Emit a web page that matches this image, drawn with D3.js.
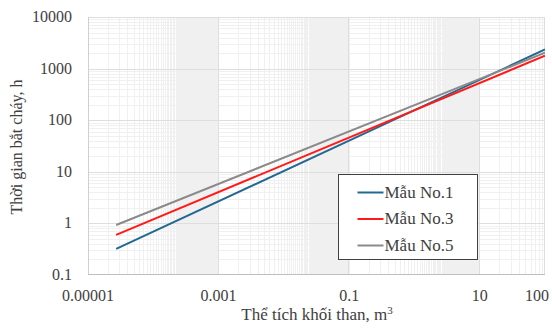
<!doctype html>
<html>
  <head>
    <meta charset="utf-8" />
    <style>
      body { margin: 0; background: #fff; }
      svg text { fill: #404040; }
    </style>
  </head>
  <body>
    <div id="chart"></div>
    <script src="https://cdn.jsdelivr.net/npm/d3@7"></script>
    <script>
      // series (two ends of each straight log-log line)
      var seriesNames = ["Mẫu No.1", "Mẫu No.3", "Mẫu No.5"];
      var seriesColors = ["#236891", "#ff1a1a", "#8a8a8a"];
      var volumeX = [0.000027, 100];
      var sample1 = [0.32, 2350];
      var sample3 = [0.60, 1780];
      var sample5 = [0.93, 2030];
      var xTickLabels = ["0.00001", "0.001", "0.1", "10", "100"];
      var yTickLabels = ["0.1", "1", "10", "100", "1000", "10000"];

      var width = 552, height = 328;
      var margin = {top: 17, right: 7, bottom: 53, left: 88};
      var w = width - margin.left - margin.right,
          h = height - margin.top - margin.bottom;
      var serif = "'Liberation Serif', 'Times New Roman', serif";

      var x = d3.scaleLog().domain([0.00001, 100]).range([0, w]);
      var y = d3.scaleLog().domain([0.1, 10000]).range([h, 0]);

      var svg = d3.select("#chart").append("svg")
                  .attr("width", width)
                  .attr("height", height);
      var g = svg.append("g")
                 .attr("transform", "translate(" + margin.left + "," + margin.top + ")");

      function crisp(v) { return Math.round(v) + 0.5; }

      // minor gridlines: x axis uses base 100 so minors go 2..99 per major step
      var xMinor = [];
      for (var e = -5; e < 2; e += 2) {
        for (var k = 2; k < 100; k++) {
          var v = k * Math.pow(10, e);
          if (v < 100) xMinor.push(v);
        }
      }
      var yMinor = [];
      for (var p = -1; p < 4; p++) {
        for (var j = 2; j < 10; j++) yMinor.push(j * Math.pow(10, p));
      }

      g.selectAll(".ygrid-minor")
       .data(yMinor)
       .enter().append("line")
       .attr("x1", 0).attr("x2", w)
       .attr("y1", function(d) { return crisp(y(d)); })
       .attr("y2", function(d) { return crisp(y(d)); })
       .style("stroke", "#f0f0f0");

      g.selectAll(".xgrid-minor")
       .data(xMinor)
       .enter().append("line")
       .attr("y1", 0).attr("y2", h)
       .attr("x1", function(d) { return crisp(x(d)); })
       .attr("x2", function(d) { return crisp(x(d)); })
       .style("stroke", "#f0f0f0");

      g.selectAll(".ygrid")
       .data(yTickLabels.slice(1))
       .enter().append("line")
       .attr("x1", 0).attr("x2", w)
       .attr("y1", function(d) { return crisp(y(+d)); })
       .attr("y2", function(d) { return crisp(y(+d)); })
       .style("stroke", "#dedede");

      g.selectAll(".xgrid")
       .data(xTickLabels.slice(1))
       .enter().append("line")
       .attr("y1", 0).attr("y2", h)
       .attr("x1", function(d) { return crisp(x(+d)) - 1; })
       .attr("x2", function(d) { return crisp(x(+d)) - 1; })
       .style("stroke", "#dedede");

      // axis lines
      g.append("line")
       .attr("x1", 0.5).attr("x2", 0.5).attr("y1", 0).attr("y2", h)
       .style("stroke", "#d0d0d0");
      g.append("line")
       .attr("x1", 0).attr("x2", w).attr("y1", h - 0.5).attr("y2", h - 0.5)
       .style("stroke", "#bfbfbf");

      // tick labels
      g.selectAll(".xlab")
       .data(xTickLabels)
       .enter().append("text")
       .attr("x", function(d, i) { return i === xTickLabels.length - 1 ? x(+d) + 4 : x(+d); })
       .attr("y", h + 26)
       .attr("text-anchor", function(d, i) { return i === xTickLabels.length - 1 ? "end" : "middle"; })
       .attr("font-family", serif)
       .style("font-size", "16px")
       .text(function(d) { return d; });

      g.selectAll(".ylab")
       .data(yTickLabels)
       .enter().append("text")
       .attr("x", -16)
       .attr("y", function(d) { return y(+d) + 5; })
       .attr("text-anchor", "end")
       .attr("font-family", serif)
       .style("font-size", "16px")
       .text(function(d) { return d; });

      // axis titles
      svg.append("text")
         .attr("x", 317).attr("y", 320)
         .attr("text-anchor", "middle")
         .attr("font-family", serif)
         .style("font-size", "17px")
         .html("Thể tích khối than, m<tspan dy='-6' font-size='11px'>3</tspan>");

      svg.append("text")
         .attr("transform", "translate(22,147) rotate(-90)")
         .attr("text-anchor", "middle")
         .attr("font-family", serif)
         .style("font-size", "16px")
         .text("Thời gian bắt cháy, h");

      // series
      var seriesValues = [sample1, sample3, sample5];
      var line = d3.line()
                   .x(function(d) { return x(d[0]); })
                   .y(function(d) { return y(d[1]); });

      svg.append("clipPath").attr("id", "plot-clip")
         .append("rect").attr("width", w).attr("height", h);

      g.selectAll(".series")
       .data(seriesValues)
       .enter().append("path")
       .attr("clip-path", "url(#plot-clip)")
       .attr("d", function(vals) {
         return line(volumeX.map(function(xv, i) { return [xv, vals[i]]; }));
       })
       .style("fill", "none")
       .style("stroke-width", 2)
       .style("stroke", function(d, i) { return seriesColors[i]; });

      // legend
      var legend = svg.append("g").attr("transform", "translate(338.5,174.5)");
      legend.append("rect")
            .attr("width", 139).attr("height", 85)
            .style("fill", "#fff")
            .style("stroke", "#404040");
      var item = legend.selectAll(".item")
                       .data(seriesNames)
                       .enter().append("g")
                       .attr("transform", function(d, i) { return "translate(0," + (18 + i * 26.5) + ")"; });
      item.append("line")
          .attr("x1", 19).attr("x2", 45)
          .style("stroke-width", 2)
          .style("stroke", function(d, i) { return seriesColors[i]; });
      item.append("text")
          .attr("x", 46).attr("y", 5)
          .attr("font-family", serif)
          .style("font-size", "17px")
          .text(function(d) { return d; });
    </script>
  </body>
</html>
